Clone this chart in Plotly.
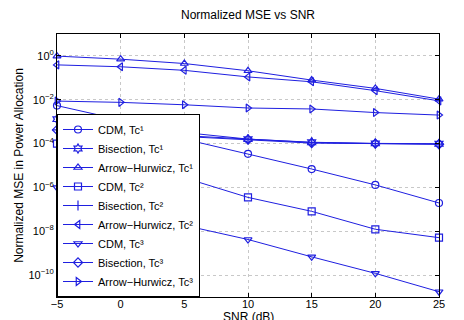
import plotly.graph_objects as go

snr = [-5, 0, 5, 10, 15, 20, 25]

cdm_tc1 = [5.4e-3, 1.2e-3, 1.6e-4, 3.4e-5, 6.9e-6, 1.3e-6, 1.95e-7]
bis_tc1 = [1.3e-3, 7.9e-4, 3.2e-4, 1.6e-4, 1.15e-4, 1.02e-4, 9.8e-5]
ah_tc1 = [0.98, 0.71, 0.45, 0.21, 0.079, 0.033, 0.0107]
cdm_tc2 = [1.0e-4, 1.7e-5, 2.75e-6, 3.5e-7, 8.1e-8, 1.23e-8, 5.1e-9]
bis_tc2 = [4.2e-4, 2.8e-4, 2.3e-4, 1.55e-4, 1.12e-4, 1.0e-4, 9.5e-5]
ah_tc2 = [0.39, 0.32, 0.22, 0.11, 0.066, 0.026, 0.0089]
cdm_tc3 = [9.8e-7, 1.4e-7, 1.86e-8, 4.2e-9, 6.8e-10, 1.2e-10, 1.74e-11]
bis_tc3 = [4.2e-4, 3.0e-4, 2.2e-4, 1.5e-4, 1.05e-4, 1.0e-4, 9.3e-5]
ah_tc3 = [8.7e-3, 7.6e-3, 5.9e-3, 4.2e-3, 3.8e-3, 2.6e-3, 2.0e-3]

series = [
    ("CDM, Tc\u00b9", cdm_tc1, "circle-open"),
    ("Bisection, Tc\u00b9", bis_tc1, "hexagram-open"),
    ("Arrow\u2212Hurwicz, Tc\u00b9", ah_tc1, "triangle-up-open"),
    ("CDM, Tc\u00b2", cdm_tc2, "square-open"),
    ("Bisection, Tc\u00b2", bis_tc2, "cross-thin-open"),
    ("Arrow\u2212Hurwicz, Tc\u00b2", ah_tc2, "triangle-left-open"),
    ("CDM, Tc\u00b3", cdm_tc3, "triangle-down-open"),
    ("Bisection, Tc\u00b3", bis_tc3, "diamond-open"),
    ("Arrow\u2212Hurwicz, Tc\u00b3", ah_tc3, "triangle-right-open"),
]

ytick_vals = [1e-10, 1e-8, 1e-6, 1e-4, 1e-2, 1e0]
ytick_text = ["10<sup>\u221210</sup>", "10<sup>\u22128</sup>", "10<sup>\u22126</sup>",
              "10<sup>\u22124</sup>", "10<sup>\u22122</sup>", "10<sup>0</sup>"]
xtick_vals = [-5, 0, 5, 10, 15, 20, 25]
xtick_text = ["\u22125", "0", "5", "10", "15", "20", "25"]

BLUE = "#1f1fe0"
fig = go.Figure()
for name, vals, sym in series:
    fig.add_trace(go.Scatter(
        x=snr, y=vals, name=name, mode="lines+markers",
        line=dict(color=BLUE, width=1),
        marker=dict(symbol=sym, size=7, color=BLUE, line=dict(color=BLUE, width=1.2)),
        cliponaxis=False,
    ))

fig.update_layout(
    width=464, height=320,
    margin=dict(l=57, r=25, t=34, b=23),
    paper_bgcolor="white", plot_bgcolor="white",
    font=dict(family="Liberation Sans, Arial, sans-serif", size=11, color="black"),
    title=dict(text="Normalized MSE vs SNR", x=0.5, xref="paper", xanchor="center",
               y=1, yref="container", yanchor="top", pad=dict(t=11),
               font=dict(size=12)),
    showlegend=True,
    legend=dict(x=0, y=0, xanchor="left", yanchor="bottom", xref="paper", yref="paper",
                bgcolor="white", bordercolor="black", borderwidth=1,
                font=dict(size=11), tracegroupgap=0, itemwidth=30),
    annotations=[dict(text="SNR (dB)", x=0.5, y=0, xref="paper", yref="paper",
                      xanchor="center", yanchor="top", yshift=-11, showarrow=False,
                      font=dict(size=12))],
)
fig.update_xaxes(
    range=[-5, 25], tickvals=xtick_vals, ticktext=xtick_text,
    showline=True, linecolor="black", linewidth=1, mirror="ticks",
    ticks="inside", ticklen=4, tickcolor="black", ticklabelstandoff=-3,
    showgrid=True, gridcolor="#c8c8c8", griddash="dot", gridwidth=1,
    zeroline=False, automargin=False,
)
fig.update_yaxes(
    type="log", range=[-11, 1], tickvals=ytick_vals, ticktext=ytick_text,
    showline=True, linecolor="black", linewidth=1, mirror="ticks",
    ticks="inside", ticklen=4, tickcolor="black",
    showgrid=True, gridcolor="#c8c8c8", griddash="dot", gridwidth=1,
    zeroline=False, automargin=False,
    title=dict(text="Normalized MSE in Power Allocation", standoff=2, font=dict(size=12)),
)

fig.write_html("out.html")
